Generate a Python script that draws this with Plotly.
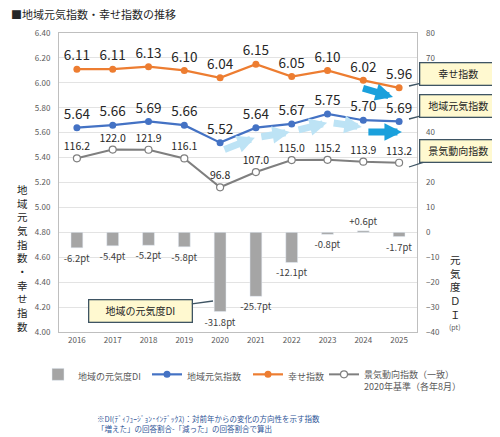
import plotly.graph_objects as go

years = [2016, 2017, 2018, 2019, 2020, 2021, 2022, 2023, 2024, 2025]
genki_di = [-6.2, -5.4, -5.2, -5.8, -31.8, -25.7, -12.1, -0.8, 0.6, -1.7]
chiiki_genki = [5.64, 5.66, 5.69, 5.66, 5.52, 5.64, 5.67, 5.75, 5.70, 5.69]
shiawase = [6.11, 6.11, 6.13, 6.10, 6.04, 6.15, 6.05, 6.10, 6.02, 5.96]
keiki = [116.2, 122.0, 121.9, 116.1, 96.8, 107.0, 115.0, 115.2, 113.9, 113.2]
# right-axis ticks left visible (60, 50, 30 sit under the callout boxes)
di_ticks = [-40, -30, -20, -10, 0, 10, 20, 40, 70, 80]

# decorative trend arrows (tail year, tail value, head year, head value)
light_arrows = [(2020.08, 5.46, 2020.97, 5.56), (2021.11, 5.565, 2021.95, 5.605),
                (2022.15, 5.62, 2022.99, 5.68), (2023.13, 5.68, 2023.96, 5.645)]
dark_arrows = [(2024.10, 5.605, 2025.08, 5.605), (2023.95, 5.96, 2024.83, 5.886)]

FONT = "Noto Sans CJK JP"
OFF = 8  # page body margin
W, H = 500 - OFF, 437 - OFF
L, R, T, B = 59 - OFF, 83, 33 - OFF, 105


def pap(px, py):
    # reference pixel position -> paper coords
    px, py = px - OFF, py - OFF
    return (px - L) / (W - L - R), (H - B - py) / (H - T - B)


def di_label(v):
    return ("+%.1fpt" % v) if v > 0 else ("%.1fpt" % v)


fig = go.Figure()

fig.add_trace(go.Bar(
    x=years, y=genki_di, yaxis="y2", name="地域の元気度DI", width=0.33, legend="legend",
    marker_color="#A5A5A5", text=[di_label(v) for v in genki_di],
    textposition="outside", cliponaxis=False, constraintext="none",
    textfont=dict(size=9.5, color="#404040", family=FONT)))

fig.add_trace(go.Scatter(
    x=years, y=chiiki_genki, name="地域元気指数", mode="lines+markers+text", legend="legend2",
    line=dict(color="#4472C4", width=2.2), marker=dict(size=7, color="#4472C4"),
    text=["%.2f" % v for v in chiiki_genki], textposition="top center",
    cliponaxis=False, textfont=dict(size=13.5, color="#262626", family=FONT)))

fig.add_trace(go.Scatter(
    x=years, y=shiawase, name="幸せ指数", mode="lines+markers+text", legend="legend3",
    line=dict(color="#ED7D31", width=2.2), marker=dict(size=7, color="#ED7D31"),
    text=["%.2f" % v for v in shiawase], textposition="top center",
    cliponaxis=False, textfont=dict(size=13.5, color="#262626", family=FONT)))

fig.add_trace(go.Scatter(
    x=years, y=keiki, yaxis="y3", name="景気動向指数（一致）<br>2020年基準（各年8月）",
    mode="lines+markers+text", legend="legend4",
    line=dict(color="#7F7F7F", width=2), marker=dict(size=7, color="white", line=dict(color="#7F7F7F", width=1.2)),
    text=["%.1f" % v for v in keiki], textposition="top center",
    cliponaxis=False, textfont=dict(size=10.5, color="#262626", family=FONT)))

ann = []
for x0, y0, x1, y1 in light_arrows:
    ann.append(dict(x=x1, y=y1, ax=x0, ay=y0, xref="x", yref="y", axref="x", ayref="y",
                    showarrow=True, arrowhead=2, arrowsize=0.5, arrowwidth=7,
                    arrowcolor="#BDE3F5", text=""))
for x0, y0, x1, y1 in dark_arrows:
    ann.append(dict(x=x1, y=y1, ax=x0, ay=y0, xref="x", yref="y", axref="x", ayref="y",
                    showarrow=True, arrowhead=2, arrowsize=0.5, arrowwidth=7,
                    arrowcolor="#1AA0DC", text=""))

# callout boxes
callouts = [("幸せ指数", (409, 86), (458, 74), 72),
            ("地域元気指数", (409, 119), (458, 106), 72),
            ("景気動向指数", (409, 167), (458, 151), 72),
            ("地域の元気度DI", (213, 301), (140, 311), 98)]
for txt, tip, ctr, wd in callouts:
    tx, ty = pap(*tip)
    ann.append(dict(x=tx, y=ty, xref="paper", yref="paper", text=txt,
                    showarrow=True, arrowhead=0, arrowwidth=1.3, arrowcolor="#3E5463",
                    ax=ctr[0] - tip[0], ay=ctr[1] - tip[1], width=wd, height=17,
                    bgcolor="#FFF9D0", bordercolor="#3E5463", borderwidth=1.3, borderpad=2,
                    font=dict(size=10, color="#262626", family=FONT)))

# axis titles (vertical stacked)
lx, ly = pap(22, 258)
ann.append(dict(x=lx, y=ly, xref="paper", yref="paper", showarrow=False,
                xanchor="center", yanchor="middle",
                text="<br>".join("地域元気指数・幸せ指数"), align="center",
                font=dict(size=10.5, color="#262626", family=FONT)))
rx, ry = pap(455, 287)
ann.append(dict(x=rx, y=ry, xref="paper", yref="paper", showarrow=False,
                xanchor="center", yanchor="middle",
                text="<br>".join("元気度ＤＩ"), align="center",
                font=dict(size=10.5, color="#262626", family=FONT)))
px_, py_ = pap(455, 327)
ann.append(dict(x=px_, y=py_, xref="paper", yref="paper", showarrow=False,
                xanchor="center", yanchor="middle",
                text="(pt)", font=dict(size=7, color="#595959", family=FONT)))

# footnote
for i, line in enumerate(["※DI(ﾃﾞｨﾌｭｰｼﾞｮﾝ･ｲﾝﾃﾞｯｸｽ)：対前年からの変化の方向性を示す指数",
                          "「増えた」の回答割合-「減った」の回答割合で算出"]):
    fx, fy = pap(95, 418 + i * 10)
    ann.append(dict(x=fx, y=fy, xref="paper", yref="paper", showarrow=False,
                    xanchor="left", yanchor="middle", text=line,
                    font=dict(size=7.5, color="#2F5597", family=FONT)))

# one legend per entry so each sits where the reference has it
leg_font = dict(size=9, color="#595959", family=FONT)
legends = {}
for i, px in enumerate([38, 147, 248, 324]):
    lgx, lgy = pap(px, 362)
    legends["legend" if i == 0 else "legend%d" % (i + 1)] = dict(
        x=lgx, y=lgy, xanchor="left", yanchor="top", orientation="h",
        valign="top", bgcolor="rgba(0,0,0,0)", font=leg_font)

fig.update_layout(
    width=W, height=H, margin=dict(l=L, r=R, t=T, b=B),
    paper_bgcolor="white", plot_bgcolor="white",
    font=dict(family=FONT, color="#595959"),
    title=dict(text="■地域元気指数・幸せ指数の推移", xref="container", yref="container",
               x=3 / W, y=1, xanchor="left", yanchor="top", pad=dict(t=3),
               font=dict(size=11, color="#262626", family=FONT)),
    xaxis=dict(range=[2015.5, 2025.5], tickvals=years, showgrid=False,
               showline=True, linecolor="#BFBFBF", mirror=True, ticks="",
               tickfont=dict(size=8, color="#595959")),
    yaxis=dict(range=[4.0, 6.4], dtick=0.2, tickformat=".2f", showgrid=True,
               gridcolor="#E3E3E3", showline=True, linecolor="#BFBFBF", mirror=True,
               ticks="", ticklabelstandoff=6, zeroline=False,
               tickfont=dict(size=8, color="#595959")),
    yaxis2=dict(range=[-40, 80], tickvals=di_ticks, overlaying="y", side="right", showgrid=False,
                zeroline=False, ticks="", ticklabelstandoff=8,
                tickfont=dict(size=8, color="#595959")),
    yaxis3=dict(range=[0, 200], overlaying="y", visible=False),
    showlegend=True,
    annotations=ann,
    **legends,
)

fig.write_html("out.html")
